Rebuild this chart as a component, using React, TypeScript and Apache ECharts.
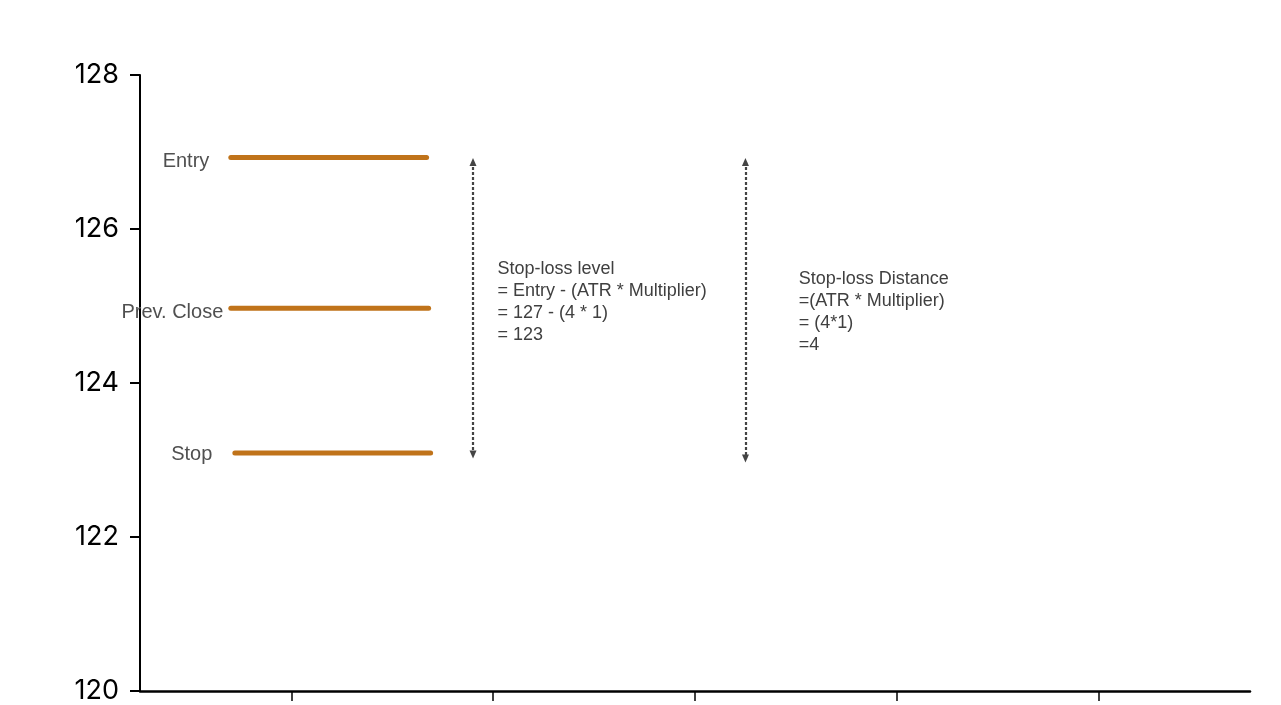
import * as echarts from "echarts";
import { useEffect, useRef } from "react";

const xTicks = [1, 2, 3, 4, 5];
const levelNames = ["Entry", "Prev. Close", "Stop"];
const levelValues = [126.93, 124.97, 123.09];
const levelStart = [0.7, 0.7, 0.72];
const levelEnd = [1.67, 1.68, 1.69];
const arrowX = [1.9, 3.25];
const arrowTop = [126.87, 126.87];
const arrowBottom = [123.07, 123.02];
const noteX = [2.019, 3.511];
const noteY = [125.06, 124.94];
const noteTexts = [
  "Stop-loss level\n= Entry - (ATR * Multiplier)\n= 127 - (4 * 1)\n= 123",
  "Stop-loss Distance\n=(ATR * Multiplier)\n= (4*1)\n=4",
];

const labelDistance = [21, 7, 22];
const labelOffset = [3, 3, 0];

export default function App() {
  const ref = useRef<HTMLDivElement>(null);

  useEffect(() => {
    const chart = echarts.init(ref.current!, null, { renderer: "svg" });
    chart.setOption({
      animation: false,
      grid: { left: 140, right: 31, top: 75, bottom: 14, outerBoundsMode: "none" },
      xAxis: {
        type: "value",
        min: 0.25,
        max: 5.75,
        axisLine: { show: true, lineStyle: { color: "#000", width: 2.5 } },
        axisTick: { show: true, length: 10, customValues: xTicks, lineStyle: { color: "#000", width: 1.5 } },
        axisLabel: { show: false },
        splitLine: { show: false },
      },
      yAxis: {
        type: "value",
        min: 120,
        max: 128,
        interval: 2,
        axisLine: { show: true, lineStyle: { color: "#000", width: 2 } },
        axisTick: { show: true, length: 10, lineStyle: { color: "#000", width: 2 } },
        axisLabel: {
          formatter: "{v|{value}}",
          margin: 21,
          rich: {
            v: {
              fontSize: 27,
              lineHeight: 22,
              padding: [0, 0, 3, 0],
              fontFamily: "Inter",
              color: "#000",
            },
          },
        },
        splitLine: { show: false },
      },
      series: [
        ...levelNames.map((name, i) => ({
          name,
          type: "line",
          symbol: "none",
          silent: true,
          lineStyle: { color: "#C0731A", width: 5, cap: "round" },
          data: [
            [levelStart[i], levelValues[i]],
            [levelEnd[i], levelValues[i]],
          ],
        })),
        {
          type: "scatter",
          symbolSize: 1,
          silent: true,
          itemStyle: { color: "rgba(0,0,0,0)", opacity: 1 },
          data: levelNames.map((name, i) => ({
            value: [levelStart[i], levelValues[i]],
            label: {
              show: true,
              position: "left",
              distance: labelDistance[i],
              offset: [0, labelOffset[i]],
              formatter: name,
              fontFamily: "Liberation Sans",
              fontSize: 20,
              color: "#505050",
            },
          })),
        },
        {
          type: "scatter",
          symbolSize: 0,
          silent: true,
          data: [],
          markLine: {
            silent: true,
            symbol: ["triangle", "triangle"],
            symbolSize: [7, 8],
            label: { show: false },
            lineStyle: { color: "#444", width: 2.2, type: [3, 2] },
            data: arrowX.map((x, i) => [
              { coord: [x, arrowTop[i]] },
              { coord: [x, arrowBottom[i]] },
            ]),
          },
        },
        {
          type: "scatter",
          symbolSize: 1,
          silent: true,
          itemStyle: { color: "rgba(0,0,0,0)", opacity: 1 },
          data: noteTexts.map((t, i) => ({
            value: [noteX[i], noteY[i]],
            label: {
              show: true,
              position: "right",
              distance: 0,
              formatter: t,
              align: "left",
              fontFamily: "Liberation Sans",
              fontSize: 18,
              lineHeight: 22,
              color: "#404040",
            },
          })),
        },
      ],
    });
    return () => chart.dispose();
  }, []);

  return (
    <div
      ref={ref}
      style={{ position: "fixed", left: 0, top: 0, width: 1281, height: 705 }}
    />
  );
}
